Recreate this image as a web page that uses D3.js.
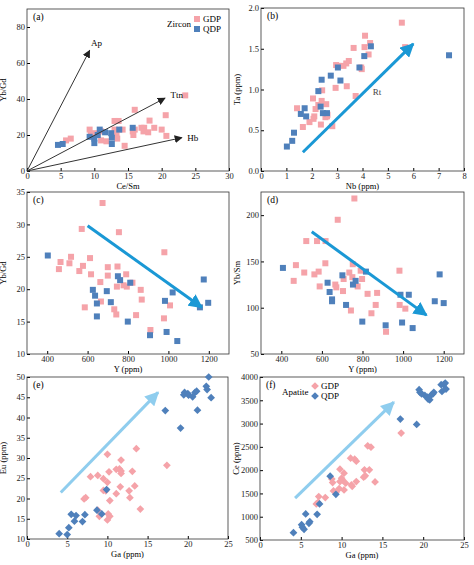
<!DOCTYPE html>
<html><head><meta charset="utf-8">
<script src="https://cdn.jsdelivr.net/npm/d3@7"></script>
<style>body{margin:0;background:#fff}svg text{font-family:"Liberation Serif","DejaVu Serif",serif}</style>
</head><body><svg id="c" width="474" height="565"></svg>
<script>
const GDP_A=[[5.8,17],[6.5,18],[9.3,23],[9.5,20],[10,21],[10.5,20],[11,22],[11,17],[11.8,16.5],[13,23],[13,27.8],[13.6,27.8],[13.3,20],[13.4,18],[14.2,23],[14.5,14],[15.7,22],[15.8,20],[16,34],[16,23],[17,24],[17.4,24],[17.3,22],[18,21.5],[18.2,28],[18.9,24],[20,23],[20.6,31],[20.7,19.5],[23.5,42]];
const QDP_A=[[4.6,14.5],[5.3,15],[9.3,19],[10,15.5],[10,18],[10.5,20],[10.8,23],[11.6,21.5],[12.5,21],[12.6,18.5],[12.6,15],[13.7,23],[15.7,24]];
const GDP_B=[[5.55,1.82],[4.1,1.66],[4.3,1.57],[4.08,1.52],[5.68,1.52],[4.24,1.43],[3.65,1.51],[3.46,1.35],[3.36,1.32],[3.25,1.29],[2.96,1.30],[3.04,1.29],[3.95,1.27],[3.97,1.25],[3.38,1.04],[2.94,1.02],[2.41,0.99],[3.73,0.92],[2.05,0.89],[2.39,0.86],[2.57,0.82],[2.26,0.81],[1.42,0.77],[2.15,0.76],[2.10,0.67],[2.6,0.67],[2.54,0.66],[2.62,0.69],[2.07,0.64],[1.91,0.60],[1.65,0.54],[2.36,0.57],[2.81,0.55]];
const QDP_B=[[4.33,1.53],[4.07,1.41],[7.41,1.42],[3.88,1.27],[3.03,1.27],[2.75,1.17],[2.39,1.12],[3.13,1.11],[2.26,0.98],[2.35,0.79],[1.72,0.77],[1.57,0.70],[1.78,0.67],[2.44,0.71],[2.6,0.71],[1.3,0.47],[1.23,0.37],[1.02,0.30]];
const GDP_C=[[674,33.3],[571,29.3],[755,28.8],[980,25.7],[518,25.0],[466,24.2],[510,24.0],[612,24.8],[577,23.6],[458,23.1],[700,23.4],[748,23.5],[700,22.1],[617,22.3],[559,22.8],[663,21.1],[791,22.3],[822,21.0],[778,20.6],[794,20.4],[745,20.4],[863,19.9],[868,18.4],[666,18.1],[586,17.2],[732,16.9],[742,16.1],[840,16.0],[1008,17.5],[978,15.5],[911,13.7]];
const QDP_C=[[403,25.2],[750,22.0],[761,21.4],[811,21.0],[626,19.9],[695,19.7],[637,19.0],[646,17.8],[715,18.0],[646,15.8],[799,15.0],[983,18.2],[1021,19.5],[1175,21.5],[1197,17.9],[1156,17.2],[909,12.9],[991,13.4],[1044,12.0]];
const GDP_D=[[760,218],[678,195],[523,172],[576,172],[618,172],[617,148],[472,146],[752,147],[584,139],[513,138],[563,136],[735,138],[791,140],[982,140],[461,129],[750,133],[707,131],[798,131],[666,125],[671,122],[589,123],[776,123],[704,118],[825,115],[872,116],[983,103],[865,103],[1011,99],[743,97],[844,94],[916,74]];
const QDP_D=[[408,143],[701,135],[766,129],[817,139],[753,125],[628,127],[638,117],[650,109],[650,107],[719,103],[799,85],[914,81],[995,84],[987,114],[1028,114],[1047,78],[1180,136],[1156,107],[1200,105]];
const GDP_E=[[13.6,32.3],[10.0,30.9],[11.7,29.5],[17.4,28.2],[11.1,27.2],[11.5,27.3],[11.7,26.8],[10.2,26.6],[13.1,26.7],[11.7,26.2],[7.9,25.4],[8.8,25.7],[9.5,24.9],[10.0,24.0],[13.4,23.1],[11.6,22.9],[11.1,21.2],[9.5,22.0],[9.8,21.9],[12.7,21.9],[7.1,19.9],[7.3,20.2],[10.3,19.5],[12.8,20.2],[8.8,17.1],[14.1,17.4],[9.0,15.6],[10.1,16.2],[10.3,15.6],[10.0,14.7]];
const QDP_E=[[4.0,11.3],[5.0,11.1],[5.2,12.8],[5.5,16.1],[5.9,14.4],[6.1,15.8],[6.9,14.3],[7.2,16.0],[8.7,17.1],[9.3,16.2],[9.9,22.2],[17.2,41.7],[19.1,37.4],[19.5,45.6],[19.6,46.2],[20.0,45.9],[20.1,45.5],[20.6,45.1],[20.9,46.2],[21.1,46.5],[21.2,41.8],[22.3,47.7],[22.4,46.9],[22.6,50],[22.9,44.9]];
const GDP_F=[[17.3,2795],[13.2,2522],[13.6,2493],[11.1,2257],[11.6,2235],[11.8,2192],[9.8,2020],[12.8,2006],[13.4,2006],[10.3,1934],[8.8,1812],[10.0,1826],[10.1,1790],[8.9,1733],[9.8,1754],[10.5,1719],[11.8,1754],[11.2,1683],[11.3,1654],[12.9,1877],[12.7,1848],[14.1,1747],[9.0,1554],[9.7,1604],[10.3,1575],[9.3,1525],[7.2,1432],[8.0,1410],[7.1,1303],[6.9,1274]];
const QDP_F=[[4.1,658],[5.1,830],[5.2,772],[5.4,729],[5.6,1060],[6.0,858],[6.1,894],[7.0,1052],[7.3,1274],[8.6,1870],[9.3,1482],[17.2,3096],[19.2,2981],[19.5,3727],[19.6,3670],[19.8,3640],[20.2,3605],[20.5,3570],[20.6,3525],[20.8,3510],[20.9,3600],[21.2,3640],[21.3,3670],[22.2,3835],[22.5,3835],[22.7,3870],[22.3,3690],[22.8,3740]];
const ARROWS_A=[{to:[9.3,67],label:"Ap",lp:[9.5,71]},{to:[20.5,40.5],label:"Ttn",lp:[21.3,42.5]},{to:[23,18.5],label:"Hb",lp:[23.8,18.5]}];
const PINK="#f5a3a9",BLUE="#4f80bb",ARR="#1a98d5",LARR="#8fcdee";
const svg=d3.select("#c");
const defs=svg.append("defs");
function mk(id,col,s){defs.append("marker").attr("id",id).attr("viewBox","0 0 10 10").attr("refX",9).attr("refY",5).attr("markerWidth",s).attr("markerHeight",s).attr("orient","auto").attr("markerUnits","userSpaceOnUse").append("path").attr("d","M0,0L10,5L0,10Z").attr("fill",col);}
mk("ak","#222",8);mk("ab",ARR,14);mk("al",LARR,14);
function panel(o){
 const g=svg.append("g");
 const x=d3.scaleLinear().domain(o.xd).range(o.xr),y=d3.scaleLinear().domain(o.yd).range(o.yr);
 g.append("g").attr("transform",`translate(0,${o.yr[0]})`).call(d3.axisBottom(x).tickValues(o.xt).tickSizeInner(-3).tickSizeOuter(0).tickPadding(2).tickFormat(o.xf||d3.format("")));
 g.append("g").attr("transform",`translate(${o.xr[0]},0)`).call(d3.axisLeft(y).tickValues(o.yt).tickSizeInner(-3).tickSizeOuter(0).tickPadding(2).tickFormat(o.yf||d3.format("")));
 g.selectAll(".tick text").attr("font-size",8.5).attr("fill","#222");
 g.selectAll(".domain").remove();
 g.append("rect").attr("x",o.xr[0]).attr("y",o.yr[1]).attr("width",o.xr[1]-o.xr[0]).attr("height",o.yr[0]-o.yr[1]).attr("fill","none").attr("stroke","#333").attr("stroke-width",0.8);
 const mx=(o.xr[0]+o.xr[1])/2;
 g.append("text").attr("x",mx).attr("y",o.yr[0]+17.5).attr("text-anchor","middle").attr("font-size",8.5).text(o.xl);
 g.append("text").attr("transform",`translate(${o.xr[0]-21},${(o.yr[0]+o.yr[1])/2}) rotate(-90)`).attr("text-anchor","middle").attr("font-size",8.5).text(o.yl);
 g.append("text").attr("x",o.xr[0]+6).attr("y",o.yr[1]+11).attr("font-size",9.5).text(o.tag);
 [[o.g,PINK],[o.q,BLUE]].forEach(([d,c])=>{
  if(o.dia) g.selectAll(null).data(d).enter().append("path").attr("d",d3.symbol(d3.symbolSquare,30)).attr("transform",p=>`translate(${x(p[0])},${y(p[1])}) rotate(45)`).attr("fill",c);
  else g.selectAll(null).data(d).enter().append("rect").attr("x",p=>x(p[0])-3).attr("y",p=>y(p[1])-3).attr("width",6).attr("height",6).attr("fill",c);
 });
 if(o.arrow){const a=o.arrow;g.append("line").attr("x1",x(a.f[0])).attr("y1",y(a.f[1])).attr("x2",x(a.t[0])).attr("y2",y(a.t[1])).attr("stroke",a.c).attr("stroke-width",3).attr("marker-end",`url(#${a.m})`);}
 return {g,x,y};
}
const A=panel({xd:[0,30],xr:[27,229],yd:[0,90],yr:[171,9],xt:[0,5,10,15,20,25,30],yt:[0,20,40,60,80],xl:"Ce/Sm",yl:"Yb/Gd",tag:"(a)",g:GDP_A,q:QDP_A});
ARROWS_A.forEach(a=>{A.g.append("line").attr("x1",A.x(0)).attr("y1",A.y(0)).attr("x2",A.x(a.to[0])).attr("y2",A.y(a.to[1])).attr("stroke","#333").attr("stroke-width",1).attr("marker-end","url(#ak)");
 A.g.append("text").attr("x",A.x(a.lp[0])).attr("y",A.y(a.lp[1])+3).attr("font-size",9).text(a.label);});
A.g.append("text").attr("x",167).attr("y",27).attr("font-size",9).text("Zircon");
[["GDP",PINK,19],["QDP",BLUE,29]].forEach(([t,c,yy])=>{A.g.append("rect").attr("x",194).attr("y",yy-3).attr("width",6).attr("height",6).attr("fill",c);A.g.append("text").attr("x",203).attr("y",yy+3).attr("font-size",9).text(t);});
const B=panel({xd:[0,8],xr:[261,464],yd:[0,2],yr:[171,8],xt:[0,1,2,3,4,5,6,7,8],yt:[0,0.5,1,1.5,2],yf:d3.format(".1f"),xl:"Nb (ppm)",yl:"Ta (ppm)",tag:"(b)",g:GDP_B,q:QDP_B,arrow:{f:[1.65,0.23],t:[6.0,1.56],c:ARR,m:"ab"}});
B.g.append("text").attr("x",B.x(4.4)).attr("y",B.y(0.93)).attr("font-size",9).attr("fill","#444").text("Rt");
panel({xd:[300,1300],xr:[27,229],yd:[10,35],yr:[354,192],xt:[400,600,800,1000,1200],yt:[10,15,20,25,30,35],xl:"Y (ppm)",yl:"Yb/Gd",tag:"(c)",g:GDP_C,q:QDP_C,arrow:{f:[600,29.8],t:[1165,17.2],c:ARR,m:"ab"}});
panel({xd:[300,1300],xr:[261,464],yd:[50,225],yr:[354,192],xt:[400,600,800,1000,1200],yt:[50,100,150,200],xl:"Y (ppm)",yl:"Yb/Sm",tag:"(d)",g:GDP_D,q:QDP_D,arrow:{f:[550,182],t:[1115,92],c:ARR,m:"ab"}});
panel({xd:[0,25],xr:[27,228],yd:[10,50],yr:[539,377],xt:[0,5,10,15,20,25],yt:[10,15,20,25,30,35,40,45,50],xl:"Ga (ppm)",yl:"Eu (ppm)",tag:"(e)",g:GDP_E,q:QDP_E,dia:true,arrow:{f:[4.2,21.5],t:[16.3,46.2],c:LARR,m:"al"}});
const F=panel({xd:[0,25],xr:[260,464],yd:[500,4000],yr:[540,377],xt:[0,5,10,15,20,25],yt:[500,1000,1500,2000,2500,3000,3500,4000],xl:"Ga (ppm)",yl:"Ce (ppm)",tag:"(f)",g:GDP_F,q:QDP_F,dia:true,arrow:{f:[4.3,1400],t:[16.4,3460],c:LARR,m:"al"}});
F.g.append("text").attr("x",282).attr("y",395).attr("font-size",9).text("Apatite");
[["GDP",PINK,386],["QDP",BLUE,396]].forEach(([t,c,yy])=>{F.g.append("path").attr("d",d3.symbol(d3.symbolSquare,30)).attr("transform",`translate(315,${yy}) rotate(45)`).attr("fill",c);F.g.append("text").attr("x",321).attr("y",yy+3).attr("font-size",9).text(t);});
</script></body></html>
